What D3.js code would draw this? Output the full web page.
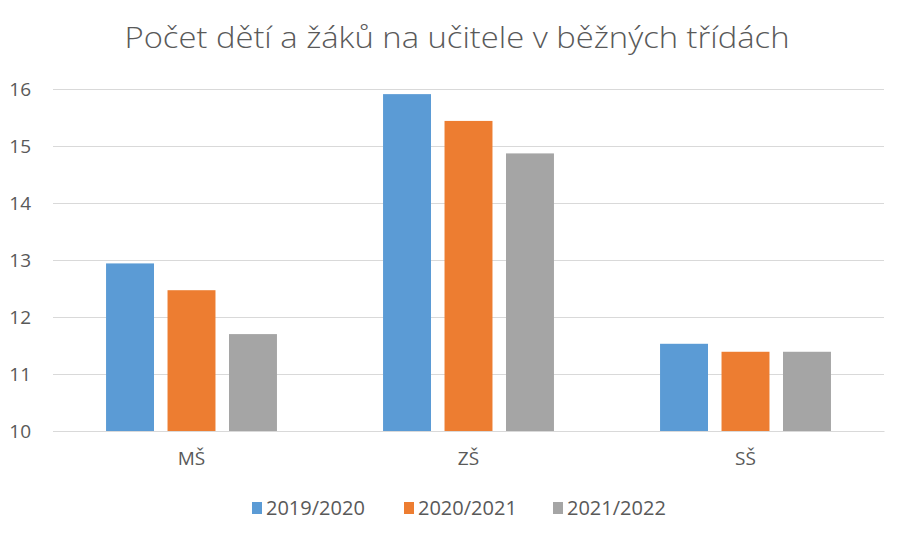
<!DOCTYPE html>
<html>
<head>
<meta charset="utf-8">
<script src="https://cdn.jsdelivr.net/npm/d3@7"></script>
<style>
  body { margin: 0; background: #fff; }
  text { font-family: "Open Sans", "Liberation Sans", sans-serif; fill: #595959; }
</style>
</head>
<body>
<script>
// data
const kategorie = ["MŠ", "ZŠ", "SŠ"];
const roky = ["2019/2020", "2020/2021", "2021/2022"];
const r2019 = [12.94, 15.91, 11.53];
const r2020 = [12.47, 15.44, 11.39];
const r2021 = [11.70, 14.87, 11.39];
const yTicks = [10, 11, 12, 13, 14, 15, 16];
const titulek = "Počet dětí a žáků na učitele v běžných třídách";

const serie = [r2019, r2020, r2021];
const barvy = ["#5b9bd5", "#ed7d31", "#a5a5a5"];

const width = 908, height = 543;
const margin = { left: 53, right: 24, top: 89, bottom: 112 };

const svg = d3.select("body").append("svg")
    .attr("width", width)
    .attr("height", height);

// titulek
svg.append("text")
    .attr("x", 457)
    .attr("y", 48)
    .attr("text-anchor", "middle")
    .attr("textLength", 665)
    .attr("lengthAdjust", "spacingAndGlyphs")
    .style("font-size", "29px")
    .style("font-weight", 300)
    .text(titulek);

const x0 = d3.scaleBand()
    .domain(kategorie)
    .range([margin.left, width - margin.right])
    .paddingInner(0.383)
    .paddingOuter(0.1915);

const x1 = d3.scaleBand()
    .domain(roky)
    .range([0, x0.bandwidth()])
    .paddingInner(0.22);

const y = d3.scaleLinear()
    .domain([10, 16])
    .range([height - margin.bottom, margin.top]);

// mrizka
const osaY = d3.axisLeft(y)
    .tickValues(yTicks)
    .tickSize(-(width - margin.left - margin.right))
    .tickPadding(22)
    .tickFormat(d3.format("d"));

const gY = svg.append("g")
    .attr("transform", "translate(" + margin.left + ",0)")
    .call(osaY);
gY.select(".domain").remove();
gY.selectAll("line").attr("stroke", "#d9d9d9").attr("stroke-width", 1);
gY.selectAll("text").style("font-size", "19px").attr("fill", "#595959");

// sloupce
const skupiny = svg.append("g")
    .selectAll("g")
    .data(kategorie)
    .enter()
    .append("g")
    .attr("transform", d => "translate(" + x0(d) + ",0)");

skupiny.selectAll("rect")
    .data((d, i) => roky.map((r, j) => ({ rok: r, hodnota: serie[j][i], j: j })))
    .enter()
    .append("rect")
    .attr("x", d => x1(d.rok))
    .attr("width", x1.bandwidth())
    .attr("y", d => y(d.hodnota))
    .attr("height", d => y(10) - y(d.hodnota))
    .attr("fill", d => barvy[d.j]);

// osa X
const osaX = d3.axisBottom(x0).tickSize(0).tickPadding(21);
const gX = svg.append("g")
    .attr("transform", "translate(0," + (height - margin.bottom) + ")")
    .call(osaX);
gX.select(".domain").attr("stroke", "#d9d9d9");
gX.selectAll("text").style("font-size", "19px").attr("fill", "#595959");

// legenda
const legX = [252, 404, 553];
const leg = svg.append("g")
    .selectAll("g")
    .data(roky)
    .enter()
    .append("g")
    .attr("transform", (d, i) => "translate(" + legX[i] + ",508)");

leg.append("rect")
    .attr("x", 0)
    .attr("y", -6)
    .attr("width", 10)
    .attr("height", 12)
    .attr("fill", (d, i) => barvy[i]);

leg.append("text")
    .attr("x", 14)
    .attr("y", 7)
    .style("font-size", "20px")
    .text(d => d);
</script>
</body>
</html>
